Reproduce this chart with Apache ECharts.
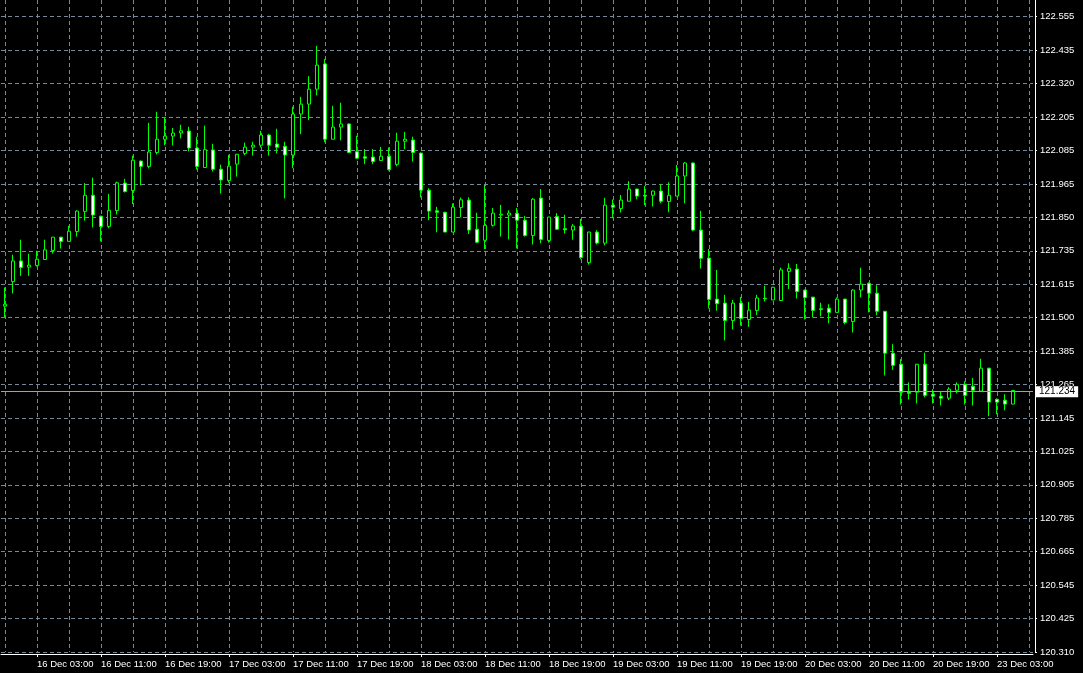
<!DOCTYPE html>
<html>
<head>
<meta charset="utf-8">
<script src="https://cdn.jsdelivr.net/npm/echarts@6/dist/echarts.min.js"></script>
<style>
  html, body { margin: 0; padding: 0; background: #000; }
  #chart { width: 1083px; height: 673px; }
</style>
</head>
<body>
<div id="chart"></div>
<script>
// Hourly candles, 15 Dec 23:00 -> 23 Dec 05:00
const opens = [
121.532,121.619,121.692,121.670,121.676,121.697,121.729,121.776,121.761,121.796,
121.867,121.924,121.850,121.814,121.870,121.967,121.941,122.045,122.026,122.075,
122.122,122.133,122.144,122.151,122.091,122.022,122.084,122.016,121.976,122.034,
122.072,122.094,122.101,122.137,122.105,122.097,122.066,122.211,122.246,122.299,
122.388,122.122,122.165,122.176,122.078,122.060,122.059,122.047,122.062,122.033,
122.115,122.119,122.073,121.942,121.869,121.864,121.794,121.881,121.907,121.804,
121.765,121.818,121.854,121.854,121.860,121.836,121.782,121.914,121.764,121.849,
121.806,121.801,121.815,121.686,121.794,121.755,121.889,121.877,121.903,121.946,
121.924,121.924,121.939,121.902,121.921,121.992,122.038,121.801,121.702,121.557,
121.543,121.481,121.543,121.485,121.517,121.560,121.554,121.552,121.655,121.663,
121.589,121.564,121.523,121.525,121.510,121.557,121.478,121.589,121.613,121.578,
121.514,121.366,121.327,121.228,121.228,121.327,121.221,121.214,121.207,121.235,
121.256,121.249,121.232,121.313,121.203,121.200,121.186
];
const closes = [
121.539,121.692,121.669,121.677,121.698,121.731,121.776,121.761,121.797,121.868,
121.924,121.854,121.814,121.871,121.968,121.937,122.048,122.026,122.077,122.122,
122.133,122.144,122.152,122.091,122.026,122.085,122.016,121.978,122.027,122.069,
122.094,122.101,122.137,122.101,122.094,122.066,122.211,122.246,122.299,122.384,
122.122,122.165,122.176,122.075,122.055,122.055,122.043,122.062,122.015,122.115,
122.122,122.075,121.942,121.868,121.864,121.794,121.882,121.908,121.801,121.758,
121.818,121.861,121.857,121.861,121.836,121.782,121.910,121.768,121.847,121.804,
121.802,121.815,121.704,121.794,121.755,121.889,121.882,121.907,121.946,121.921,
121.921,121.939,121.903,121.924,121.992,122.038,121.801,121.701,121.556,121.541,
121.481,121.543,121.488,121.518,121.561,121.558,121.599,121.660,121.666,121.584,
121.563,121.517,121.520,121.510,121.557,121.474,121.589,121.610,121.578,121.514,
121.366,121.323,121.228,121.224,121.327,121.217,121.214,121.207,121.239,121.256,
121.217,121.235,121.313,121.193,121.193,121.186,121.234
];
const lows = [
121.494,121.577,121.639,121.639,121.672,121.697,121.718,121.736,121.761,121.778,
121.834,121.810,121.761,121.807,121.856,121.934,121.893,121.959,122.019,122.068,
122.101,122.100,122.125,122.079,122.015,122.022,122.008,121.930,121.969,121.990,
122.066,122.064,122.093,122.064,122.072,121.913,122.020,122.140,122.190,122.277,
122.111,122.122,122.118,122.073,122.053,122.034,122.034,122.047,122.011,122.026,
122.087,122.043,121.916,121.836,121.793,121.794,121.794,121.846,121.787,121.755,
121.734,121.813,121.778,121.768,121.736,121.778,121.750,121.754,121.757,121.801,
121.788,121.767,121.698,121.679,121.750,121.747,121.843,121.863,121.903,121.910,
121.889,121.884,121.896,121.864,121.921,121.895,121.797,121.665,121.524,121.516,
121.411,121.450,121.463,121.459,121.501,121.549,121.554,121.552,121.593,121.559,
121.485,121.492,121.496,121.471,121.510,121.468,121.439,121.563,121.510,121.500,
121.287,121.307,121.184,121.202,121.188,121.210,121.188,121.181,121.200,121.224,
121.184,121.181,121.228,121.143,121.150,121.164,121.186
];
const highs = [
121.598,121.714,121.767,121.717,121.728,121.767,121.776,121.777,121.816,121.871,
121.967,121.986,121.852,121.929,121.972,121.982,122.064,122.046,122.180,122.219,
122.198,122.162,122.173,122.166,122.131,122.170,122.106,122.032,122.067,122.070,
122.110,122.113,122.152,122.141,122.159,122.113,122.237,122.272,122.345,122.452,
122.405,122.240,122.251,122.178,122.134,122.087,122.087,122.095,122.093,122.145,
122.148,122.131,122.075,121.949,121.883,121.865,121.895,121.916,121.917,121.862,
121.960,121.879,121.890,121.871,121.879,121.851,121.914,121.946,121.848,121.861,
121.855,121.822,121.840,121.795,121.801,121.915,121.909,121.925,121.974,121.947,
121.957,121.940,121.963,121.970,122.031,122.041,122.040,121.869,121.734,121.660,
121.572,121.554,121.565,121.547,121.572,121.604,121.600,121.668,121.684,121.681,
121.590,121.565,121.544,121.539,121.563,121.558,121.592,121.668,121.616,121.606,
121.515,121.398,121.345,121.263,121.328,121.368,121.239,121.232,121.246,121.263,
121.267,121.278,121.346,121.314,121.206,121.221,121.235
];
const currentPrice = 121.234;

// labels every 8 hourly bars, first at bar 4 (16 Dec 03:00)
const xTickLabels = [
'16 Dec 03:00','16 Dec 11:00','16 Dec 19:00','17 Dec 03:00',
'17 Dec 11:00','17 Dec 19:00','18 Dec 03:00','18 Dec 11:00','18 Dec 19:00',
'19 Dec 03:00','19 Dec 11:00','19 Dec 19:00','20 Dec 03:00','20 Dec 11:00',
'20 Dec 19:00','23 Dec 03:00'
];
const yTickLabels = [
'120.310','120.425','120.545','120.665','120.785','120.905','121.025','121.145',
'121.265','121.385','121.500','121.615','121.735','121.850','121.965','122.085',
'122.205','122.320','122.435','122.555'
];

const totalSlots = 129; // 127 bars + 2 empty slots of right shift
const categories = Array.from({length: totalSlots}, (_, i) => String(i));
const candleData = opens.map((o, i) => [o, closes[i], lows[i], highs[i]]);

const yMin = 120.310;
const yMax = 122.614;
const yStep = (122.555 - 120.310) / 19;

const gridColor = '#778899';
const font = 'Liberation Sans, Arial, sans-serif';
const isLabelIdx = (idx) => idx % 8 === 4;

const chart = echarts.init(document.getElementById('chart'), null, {renderer: 'canvas'});
chart.setOption({
  backgroundColor: '#000000',
  animation: false,
  grid: { left: 1, width: 1032, top: 0, bottom: 21, containLabel: false },
  xAxis: {
    type: 'category',
    data: categories,
    boundaryGap: true,
    offset: 2,
    axisLine: { show: true, lineStyle: { color: '#ffffff', width: 1 } },
    axisTick: {
      show: true, length: 3, alignWithLabel: true,
      interval: isLabelIdx,
      lineStyle: { color: '#ffffff' }
    },
    axisLabel: {
      show: true,
      interval: isLabelIdx,
      align: 'left',
      margin: 5,
      color: '#ffffff',
      fontFamily: font,
      fontSize: 9.5,
      formatter: (v) => {
        const k = (Number(v) - 4) / 8;
        return Number.isInteger(k) && xTickLabels[k] ? xTickLabels[k] : '';
      }
    },
    splitLine: {
      show: true,
      alignWithLabel: true,
      interval: (idx) => idx % 4 === 0,
      lineStyle: { color: gridColor, type: [4, 3], width: 1 }
    }
  },
  yAxis: {
    type: 'value',
    position: 'right',
    min: yMin,
    max: yMax,
    interval: yStep,
    offset: 2,
    axisLine: { show: true, lineStyle: { color: '#ffffff', width: 1 } },
    axisTick: { show: true, length: 2, lineStyle: { color: '#ffffff' } },
    axisLabel: {
      show: true,
      margin: 5,
      color: '#ffffff',
      fontFamily: font,
      fontSize: 9.5,
      showMaxLabel: false,
      formatter: (v) => {
        const k = Math.round((v - yMin) / yStep);
        return Math.abs(yMin + k * yStep - v) < 1e-6 && yTickLabels[k] ? yTickLabels[k] : '';
      }
    },
    splitLine: {
      show: true,
      showMaxLine: false,
      lineStyle: { color: gridColor, type: [4, 3], width: 1 }
    }
  },
  series: [{
    type: 'candlestick',
    data: candleData,
    barWidth: 4,
    itemStyle: {
      color: '#000000',
      color0: '#ffffff',
      borderColor: '#00ff00',
      borderColor0: '#00ff00',
      borderWidth: 1
    },
    markLine: {
      silent: true,
      symbol: ['none', 'none'],
      animation: false,
      lineStyle: { color: '#a0a0a0', type: 'solid', width: 1 },
      label: {
        show: true,
        position: 'end',
        distance: 3,
        formatter: currentPrice.toFixed(3),
        backgroundColor: '#ffffff',
        color: '#000000',
        fontFamily: font,
        fontSize: 10,
        padding: [1, 3, 0, 3]
      },
      data: [{ yAxis: currentPrice }]
    }
  }]
});
</script>
</body>
</html>
